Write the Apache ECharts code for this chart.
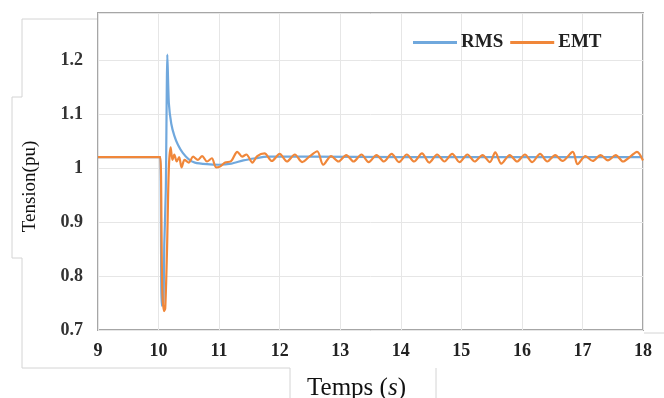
<!DOCTYPE html>
<html>
<head>
<meta charset="utf-8">
<script src="https://cdn.jsdelivr.net/npm/echarts@6/dist/echarts.min.js"></script>
<style>
html,body{margin:0;padding:0;background:#fff;}
#chart{width:664px;height:398px;}
</style>
</head>
<body>
<div id="chart"></div>
<script>
// Axis labels / names
var xAxisName = 'Temps ({i|s})';
var yAxisName = 'Tension(pu)';
var seriesNames = ['RMS', 'EMT'];

// RMS series [time (s), voltage (pu)]
var rmsData = [
  [9.0,1.020],[10.0,1.020],[10.03,1.020],[10.05,0.745],[10.08,0.750],[10.095,0.860],
  [10.12,0.960],[10.145,1.210],[10.17,1.120],[10.21,1.082],[10.26,1.060],[10.32,1.043],
  [10.4,1.028],[10.5,1.016],[10.6,1.010],[10.8,1.007],[11.0,1.006],[11.2,1.008],
  [11.4,1.014],[11.6,1.018],[11.8,1.021],[12.5,1.021],[14.0,1.020],[16.0,1.020],[18.0,1.020]
];

// EMT series [time (s), voltage (pu)]
var emtData = [
  [9.0,1.020],[10.0,1.020],[10.03,1.020],[10.06,0.780],[10.09,0.735],[10.11,0.740],
  [10.14,0.850],[10.17,1.000],[10.2,1.038],[10.23,1.015],[10.26,1.025],[10.3,1.012],
  [10.34,1.020],[10.38,1.001],[10.43,1.015],[10.5,1.010],[10.57,1.021],[10.65,1.015],
  [10.72,1.022],[10.8,1.012],[10.88,1.018],[10.95,1.001],[11.02,1.003],[11.1,1.010],
  [11.2,1.013],[11.3,1.030],[11.38,1.021],[11.45,1.025],[11.55,1.010],[11.63,1.022],
  [11.75,1.027],[11.87,1.013],[12.0,1.026],[12.12,1.012],[12.25,1.025],[12.37,1.011],
  [12.5,1.022],[12.62,1.031],[12.72,1.006],[12.85,1.022],[12.97,1.012],[13.1,1.024],
  [13.22,1.012],[13.35,1.025],[13.47,1.011],[13.6,1.024],[13.72,1.012],[13.85,1.026],
  [13.97,1.011],[14.1,1.025],[14.22,1.012],[14.35,1.027],[14.47,1.010],[14.6,1.025],
  [14.72,1.012],[14.85,1.026],[14.97,1.011],[15.1,1.025],[15.22,1.012],[15.35,1.024],
  [15.47,1.011],[15.56,1.029],[15.66,1.008],[15.8,1.024],[15.92,1.012],[16.05,1.025],
  [16.17,1.011],[16.3,1.026],[16.42,1.012],[16.55,1.024],[16.67,1.013],[16.84,1.030],
  [16.92,1.007],[17.05,1.022],[17.17,1.013],[17.3,1.024],[17.42,1.014],[17.55,1.024],
  [17.67,1.012],[17.8,1.022],[17.9,1.030],[18.0,1.014]
];

var chart = echarts.init(document.getElementById('chart'), null, {renderer: 'canvas'});
var serif = '"Liberation Serif", "DejaVu Serif", serif';
var option = {
  backgroundColor: '#ffffff',
  animation: false,
  grid: {left: 98, top: 13, right: 21, bottom: 68, containLabel: false, outerBoundsMode: 'none',
    show: true, borderColor: '#a6a6a6', borderWidth: 2},
  legend: {
    left: 408, top: 28,
    icon: 'rect', itemWidth: 44, itemHeight: 3, itemGap: 7,
    textStyle: {fontFamily: serif, fontSize: 19, fontWeight: 'bold', color: '#222', padding: [0,0,0,-1]},
    data: seriesNames
  },
  xAxis: {
    type: 'value', min: 9, max: 18, interval: 1,
    name: xAxisName, nameLocation: 'middle', nameGap: 46,
    nameTextStyle: {fontFamily: serif, fontSize: 25, color: '#111', padding: [0, 28, 0, 0],
      rich: {i: {fontFamily: serif, fontSize: 25, fontStyle: 'italic', color: '#111'}}},
    axisLine: {show: false}, axisTick: {show: false},
    axisLabel: {fontFamily: serif, fontSize: 18, fontWeight: 'bold', color: '#222', margin: 12},
    splitLine: {show: true, lineStyle: {color: '#e6e6e6', width: 1}}
  },
  yAxis: {
    type: 'value', min: 0.7, max: 1.287, interval: 0.1,
    name: yAxisName, nameLocation: 'middle', nameGap: 58,
    nameTextStyle: {fontFamily: serif, fontSize: 19, color: '#111', padding: [0, 30, 0, 0]},
    axisLine: {show: false}, axisTick: {show: false},
    axisLabel: {fontFamily: serif, fontSize: 18, fontWeight: 'bold', color: '#333', margin: 15, showMaxLabel: false,
      padding: [0, 0, 8, 0],
      formatter: function (v) { return Math.abs(v - 1.287) < 1e-6 ? '' : String(Math.round(v * 10) / 10); }},
    splitLine: {show: true, lineStyle: {color: '#e6e6e6', width: 1}}
  },
  graphic: [
    {type: 'polyline', silent: true, z: -1, shape: {points: [[97,19],[22,19],[22,97],[12,97],[12,258],[22,258],[22,368],[290,368],[290,398]]}, style: {stroke: '#d4d4d4', lineWidth: 1, fill: null}},
    {type: 'polyline', silent: true, z: -1, shape: {points: [[436,398],[436,368]]}, style: {stroke: '#d4d4d4', lineWidth: 1, fill: null}},
    {type: 'polyline', silent: true, z: -1, shape: {points: [[644,333],[664,333]]}, style: {stroke: '#d4d4d4', lineWidth: 1, fill: null}}
  ],
  series: [
    {name: seriesNames[0], type: 'line', data: rmsData, showSymbol: false, smooth: 0.2,
      lineStyle: {color: '#70a8dd', width: 2.2}, itemStyle: {color: '#70a8dd'}, z: 2},
    {name: seriesNames[1], type: 'line', data: emtData, showSymbol: false, smooth: 0.3,
      lineStyle: {color: '#f0873a', width: 2.2}, itemStyle: {color: '#f0873a'}, z: 3}
  ]
};
chart.setOption(option);
</script>
</body>
</html>
